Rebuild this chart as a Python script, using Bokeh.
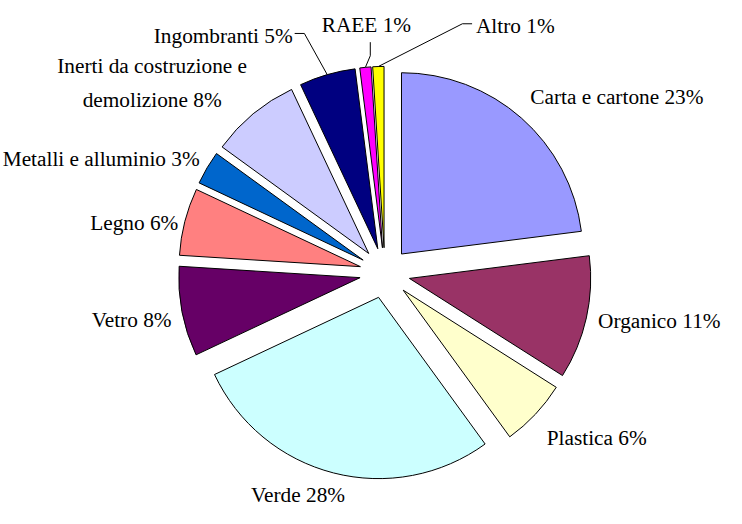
import math
from bokeh.plotting import figure
from bokeh.models import Range1d, ColumnDataSource
from bokeh.core.properties import value
from bokeh.embed import file_html
from bokeh.resources import INLINE

# ---- data ----
categories = ["Carta e cartone", "Organico", "Plastica", "Verde", "Vetro", "Legno",
              "Metalli e alluminio", "Inerti da costruzione e\ndemolizione", "Ingombranti", "RAEE", "Altro"]
percent = [23, 11, 6, 28, 8, 6, 3, 8, 5, 1, 1]
colors = ["#9999FF", "#993366", "#FFFFCC", "#CCFFFF", "#660066", "#FF8080",
          "#0066CC", "#CCCCFF", "#000080", "#FF00FF", "#FFFF00"]

# ---- layout (in reference-image pixel units) ----
W, H = 726, 508
REF_W, REF_H = 742, 524
S = REF_H / H                      # reference units per screen pixel
CX, CY = 393, 281
R = 187
EXPLODE = 26
FONT_PX = 22 / S

# label anchors: (x, y, align)
label_pos = [(543, 100, "left"), (613, 331, "left"), (560, 451, "left"), (255, 510, "left"),
             (173, 330, "right"), (180, 229, "right"), (202, 164, "right"), (153, 85, "center"),
             (298, 37, "right"), (374, 25, "center"), (487, 26, "left")]
# leader line bend points for the small slices
leaders = {8: [(310, 34), (300, 34)], 9: [(378, 57), (378, 43)], 10: [(473, 24), (483, 24)]}


def Y(py):
    return REF_H - py


xspan = W * S
x0 = (REF_W - xspan) / 2
p = figure(width=W, height=H, output_backend="svg", toolbar_location=None,
           x_range=Range1d(x0, x0 + xspan), y_range=Range1d(0, REF_H),
           min_border=0)
p.axis.visible = False
p.grid.visible = False
p.outline_line_color = None
p.background_fill_color = "white"

total = sum(percent)
cum = 0.0
xs, ys, sa, ea, mids = [], [], [], [], []
for v in percent:
    t1 = cum / total * 360.0
    t2 = (cum + v) / total * 360.0
    cum += v
    tm = math.radians((t1 + t2) / 2)
    mids.append(tm)
    xs.append(CX + EXPLODE * math.sin(tm))
    ys.append(Y(CY - EXPLODE * math.cos(tm)))
    sa.append(math.radians(90 - t2))
    ea.append(math.radians(90 - t1))

src = ColumnDataSource(dict(x=xs, y=ys, start=sa, end=ea, color=colors))
p.wedge(x="x", y="y", radius=R, start_angle="start", end_angle="end",
        fill_color="color", line_color="black", line_width=1, source=src)

for i, pts in leaders.items():
    tm = mids[i]
    ex = xs[i] + R * math.sin(tm)
    ey = ys[i] + R * math.cos(tm)
    p.line([ex] + [q[0] for q in pts], [ey] + [Y(q[1]) for q in pts],
           line_color="black", line_width=1)

for i, (name, v) in enumerate(zip(categories, percent)):
    x, y, al = label_pos[i]
    p.text(x=[x], y=[Y(y)], text=[f"{name} {v}%"],
           text_font=value("Liberation Serif"),
           text_font_size=f"{FONT_PX:.1f}px", text_align=al, text_baseline="middle",
           text_color="black", text_line_height=1.4)

open("out.html", "w").write(file_html(p, INLINE))
